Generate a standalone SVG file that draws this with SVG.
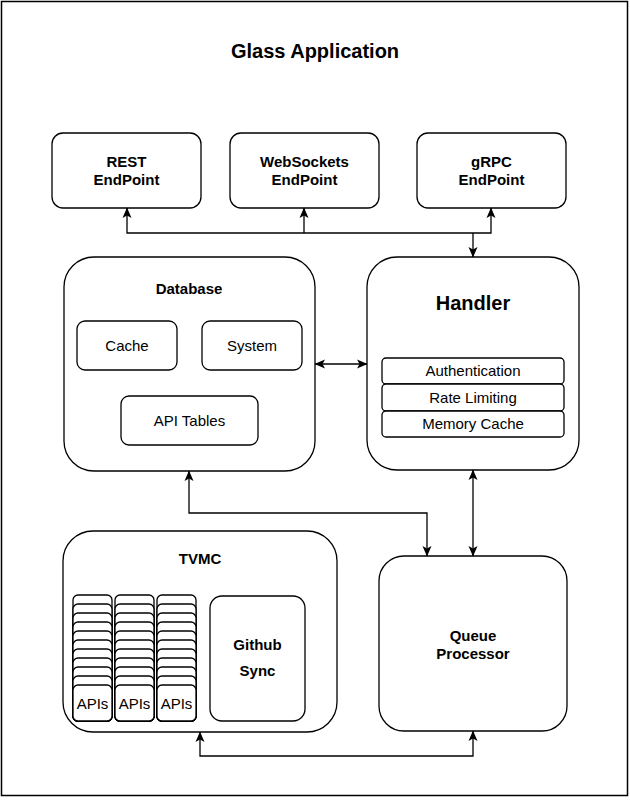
<svg xmlns="http://www.w3.org/2000/svg" width="630" height="810" viewBox="0 0 630 810">
<defs>
<style>
.box{fill:#fff;stroke:#000;stroke-width:1.3}
.frame{fill:#fff;stroke:#000;stroke-width:1.5}
.t{font-family:"Liberation Sans",Arial,Helvetica,sans-serif;font-size:15px;fill:#000;text-anchor:middle}
.b{font-weight:bold}
.conn{fill:none;stroke:#000;stroke-width:1.3}
.arr{marker-end:url(#ah)}
.both{marker-start:url(#ah);marker-end:url(#ah)}
</style>
<marker id="ah" markerUnits="userSpaceOnUse" markerWidth="11" markerHeight="10" viewBox="0 0 11 10" refX="10" refY="5" orient="auto-start-reverse">
<path d="M0,0.5 L10.5,5 L0,9.5 L2.5,5 Z" fill="#000"/>
</marker>
</defs>
<rect class="frame" x="1.5" y="1.5" width="626" height="794"/>
<text class="t b" x="315" y="58" style="font-size:20px">Glass Application</text>

<g id="rest">
<rect class="box" x="52" y="133" width="149" height="75" rx="11"/>
<text class="t b" x="126.5" y="167">REST</text>
<text class="t b" x="126.5" y="185">EndPoint</text>
</g>
<g id="websockets">
<rect class="box" x="230" y="133" width="149" height="75" rx="11"/>
<text class="t b" x="304.5" y="167">WebSockets</text>
<text class="t b" x="304.5" y="185">EndPoint</text>
</g>
<g id="grpc">
<rect class="box" x="417" y="133" width="149" height="75" rx="11"/>
<text class="t b" x="491.5" y="167">gRPC</text>
<text class="t b" x="491.5" y="185">EndPoint</text>
</g>

<g id="database">
<rect class="box" x="64" y="257" width="251" height="214" rx="30"/>
<text class="t b" x="189" y="294">Database</text>
<g id="cache">
<rect class="box" x="77" y="321" width="100" height="49" rx="8"/>
<text class="t" x="127" y="350.5">Cache</text>
</g>
<g id="system">
<rect class="box" x="202" y="321" width="100" height="49" rx="8"/>
<text class="t" x="252" y="350.5">System</text>
</g>
<g id="apitables">
<rect class="box" x="121" y="396" width="137" height="49" rx="8"/>
<text class="t" x="189.5" y="425.5">API Tables</text>
</g>
</g>

<g id="handler">
<rect class="box" x="367" y="257" width="212" height="213" rx="30"/>
<text class="t b" x="473" y="310" style="font-size:20px">Handler</text>
<rect class="box" x="382" y="358" width="182" height="26" rx="4"/>
<text class="t" x="473" y="376">Authentication</text>
<rect class="box" x="382" y="384" width="182" height="27" rx="4"/>
<text class="t" x="473" y="402.5">Rate Limiting</text>
<rect class="box" x="382" y="411" width="182" height="26" rx="4"/>
<text class="t" x="473" y="429">Memory Cache</text>
</g>

<g id="tvmc">
<rect class="box" x="63" y="531" width="274" height="201" rx="30"/>
<text class="t b" x="200" y="564">TVMC</text>
<g id="apis1">
<rect class="box" x="73" y="595" width="39" height="126" rx="5"/>
<rect class="box" x="73" y="604" width="39" height="117" rx="5"/>
<rect class="box" x="73" y="613" width="39" height="108" rx="5"/>
<rect class="box" x="73" y="622" width="39" height="99" rx="5"/>
<rect class="box" x="73" y="631" width="39" height="90" rx="5"/>
<rect class="box" x="73" y="640" width="39" height="81" rx="5"/>
<rect class="box" x="73" y="649" width="39" height="72" rx="5"/>
<rect class="box" x="73" y="658" width="39" height="63" rx="5"/>
<rect class="box" x="73" y="667" width="39" height="54" rx="5"/>
<rect class="box" x="73" y="676" width="39" height="45" rx="5"/>
<rect class="box" x="73" y="685" width="39" height="36" rx="5"/>
<text class="t" x="92.5" y="708.5">APIs</text>
</g>
<g id="apis2">
<rect class="box" x="115" y="595" width="39" height="126" rx="5"/>
<rect class="box" x="115" y="604" width="39" height="117" rx="5"/>
<rect class="box" x="115" y="613" width="39" height="108" rx="5"/>
<rect class="box" x="115" y="622" width="39" height="99" rx="5"/>
<rect class="box" x="115" y="631" width="39" height="90" rx="5"/>
<rect class="box" x="115" y="640" width="39" height="81" rx="5"/>
<rect class="box" x="115" y="649" width="39" height="72" rx="5"/>
<rect class="box" x="115" y="658" width="39" height="63" rx="5"/>
<rect class="box" x="115" y="667" width="39" height="54" rx="5"/>
<rect class="box" x="115" y="676" width="39" height="45" rx="5"/>
<rect class="box" x="115" y="685" width="39" height="36" rx="5"/>
<text class="t" x="134.5" y="708.5">APIs</text>
</g>
<g id="apis3">
<rect class="box" x="157" y="595" width="39" height="126" rx="5"/>
<rect class="box" x="157" y="604" width="39" height="117" rx="5"/>
<rect class="box" x="157" y="613" width="39" height="108" rx="5"/>
<rect class="box" x="157" y="622" width="39" height="99" rx="5"/>
<rect class="box" x="157" y="631" width="39" height="90" rx="5"/>
<rect class="box" x="157" y="640" width="39" height="81" rx="5"/>
<rect class="box" x="157" y="649" width="39" height="72" rx="5"/>
<rect class="box" x="157" y="658" width="39" height="63" rx="5"/>
<rect class="box" x="157" y="667" width="39" height="54" rx="5"/>
<rect class="box" x="157" y="676" width="39" height="45" rx="5"/>
<rect class="box" x="157" y="685" width="39" height="36" rx="5"/>
<text class="t" x="176.5" y="708.5">APIs</text>
</g>
<g id="githubsync">
<rect class="box" x="210" y="596" width="95" height="125" rx="12"/>
<text class="t b" x="257.5" y="650">Github</text>
<text class="t b" x="257.5" y="676">Sync</text>
</g>
</g>

<g id="queue">
<rect class="box" x="379" y="556" width="188" height="175" rx="25"/>
<text class="t b" x="473" y="641">Queue</text>
<text class="t b" x="473" y="659">Processor</text>
</g>

<g id="connectors">
<path class="conn both" d="M127,208 V233 H491 V208"/>
<path class="conn arr" d="M304,233 V208"/>
<path class="conn arr" d="M473,233 V257"/>
<path class="conn both" d="M315,364 H367"/>
<path class="conn both" d="M189,471 V513 H427 V556"/>
<path class="conn both" d="M473,470 V556"/>
<path class="conn both" d="M200,732 V756 H473 V731"/>
</g>
</svg>
